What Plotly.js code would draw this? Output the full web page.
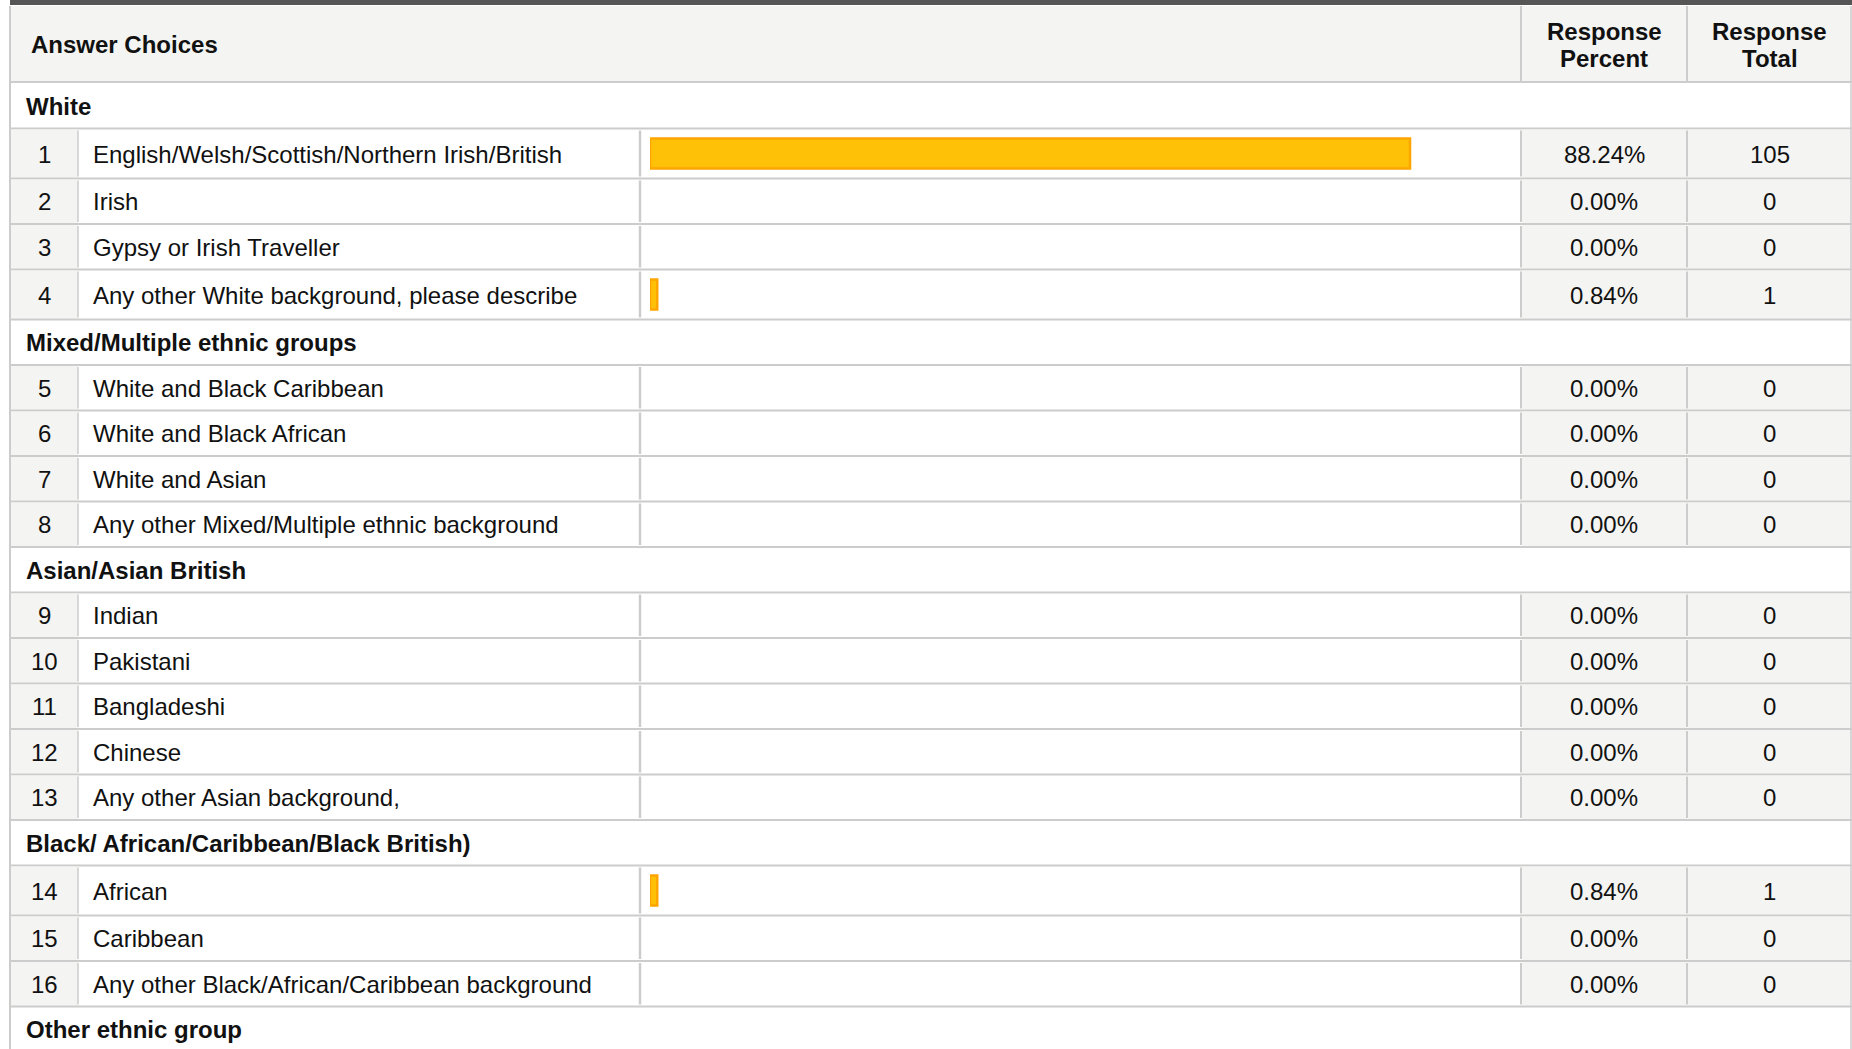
<!DOCTYPE html>
<html>
<head>
<meta charset="utf-8">
<script src="https://cdn.plot.ly/plotly-3.0.1.min.js"></script>
<style>
html, body { margin: 0; padding: 0; background: #ffffff; }
#chart { width: 1852px; height: 1049px; }
</style>
</head>
<body>
<div id="chart"></div>
<script>
// ---------------- DATA ----------------
const headerChoices = 'Answer Choices';
const headerPercent = ['Response', 'Percent'];
const headerTotal = ['Response', 'Total'];

const groupNames = [
  'White',
  'Mixed/Multiple ethnic groups',
  'Asian/Asian British',
  'Black/ African/Caribbean/Black British)',
  'Other ethnic group'
];

const choiceLabels = [
  'English/Welsh/Scottish/Northern Irish/British',
  'Irish',
  'Gypsy or Irish Traveller',
  'Any other White background, please describe',
  'White and Black Caribbean',
  'White and Black African',
  'White and Asian',
  'Any other Mixed/Multiple ethnic background',
  'Indian',
  'Pakistani',
  'Bangladeshi',
  'Chinese',
  'Any other Asian background,',
  'African',
  'Caribbean',
  'Any other Black/African/Caribbean background'
];

const choiceGroup = [0, 0, 0, 0, 1, 1, 1, 1, 2, 2, 2, 2, 2, 3, 3, 3];

const responsePercent = [88.24, 0.00, 0.00, 0.84, 0.00, 0.00, 0.00, 0.00,
                         0.00, 0.00, 0.00, 0.00, 0.00, 0.84, 0.00, 0.00];

const responseTotal = [105, 0, 0, 1, 0, 0, 0, 0, 0, 0, 0, 0, 0, 1, 0, 0];

// ---------------- LAYOUT (pixels) ----------------
const W = 1852, H = 1049;
const X_LEFT = 10, X_NUM = 78, X_TEXT = 640, X_PCT = 1521, X_TOT = 1687, X_RIGHT = 1851;
const TOPBAR_BOTTOM = 6, HEADER_BOTTOM = 83;
const SECTION_H = 45.5, ROW_H = 45.5, BAR_ROW_H = 50;
const BAR_AXIS_START = 650, BAR_AXIS_END = 1511.3;
const BAR_THICK = 30;
const TEXT_PAD = 3; // annotation box padding compensation

const GRID = '#cccccc', CELL_GRAY = '#f4f4f2', TEXT = '#111111';
const FONT = 'Liberation Sans, Arial, Helvetica, sans-serif';
const FS = 24;

const px = v => v / W;

// Build rows from the data
const rows = [];
let yCursor = HEADER_BOTTOM;
groupNames.forEach((g, gi) => {
  rows.push({ type: 'section', label: g, top: yCursor, bottom: yCursor + SECTION_H });
  yCursor += SECTION_H;
  choiceLabels.forEach((c, i) => {
    if (choiceGroup[i] !== gi) return;
    const h = responsePercent[i] > 0 ? BAR_ROW_H : ROW_H;
    rows.push({ type: 'choice', idx: i, top: yCursor, bottom: yCursor + h });
    yCursor += h;
  });
});

const choiceCenter = new Array(choiceLabels.length);
rows.forEach(r => { if (r.type === 'choice') choiceCenter[r.idx] = (r.top + r.bottom) / 2; });

// ---------------- SHAPES ----------------
const shapes = [];
function rect(x0, x1, y0, y1, fill) {
  shapes.push({ type: 'rect', xref: 'paper', yref: 'y', x0: px(x0), x1: px(x1), y0: y0, y1: y1,
    fillcolor: fill, line: { width: 0 }, layer: 'below' });
}
function hline(x0, x1, y, w, c) {
  shapes.push({ type: 'line', xref: 'paper', yref: 'y', x0: px(x0), x1: px(x1), y0: y, y1: y,
    line: { color: c || GRID, width: w || 2 }, layer: 'below' });
}
function vline(x, y0, y1, w, c) {
  shapes.push({ type: 'line', xref: 'paper', yref: 'y', x0: px(x), x1: px(x), y0: y0, y1: y1,
    line: { color: c || GRID, width: w || 2 }, layer: 'below' });
}

// top dark strip and header
rect(X_LEFT, W, 0, TOPBAR_BOTTOM - 1, '#555555');
rect(X_LEFT + 1, W, TOPBAR_BOTTOM, HEADER_BOTTOM - 1, CELL_GRAY);
hline(X_LEFT, W, HEADER_BOTTOM - 1, 2);
vline(X_PCT, TOPBAR_BOTTOM, HEADER_BOTTOM - 2, 2);
vline(X_TOT, TOPBAR_BOTTOM, HEADER_BOTTOM - 2, 2);

rows.forEach(r => {
  if (r.type === 'choice') {
    rect(X_LEFT + 1, X_NUM, r.top + 1, r.bottom - 1, CELL_GRAY);
    rect(X_PCT + 1, X_TOT, r.top + 1, r.bottom - 1, CELL_GRAY);
    rect(X_TOT + 1, W, r.top + 1, r.bottom - 1, CELL_GRAY);
    vline(X_NUM, r.top + 2, r.bottom - 2, 1.5);
    vline(X_TEXT, r.top + 2, r.bottom - 2, 2.5);
    vline(X_PCT, r.top + 2, r.bottom - 2, 2);
    vline(X_TOT, r.top + 2, r.bottom - 2, 2);
  }
  hline(X_LEFT, W, r.bottom, 2);
});
vline(X_LEFT, TOPBAR_BOTTOM, H, 2);
vline(X_RIGHT, TOPBAR_BOTTOM, H, 1.5);

// ---------------- ANNOTATIONS ----------------
const annotations = [];
function label(text, x, y, anchor, bold) {
  const xx = anchor === 'left' ? x - TEXT_PAD : x;
  annotations.push({ text: text, xref: 'paper', yref: 'y', x: px(xx), y: y,
    xanchor: anchor, yanchor: 'middle', showarrow: false,
    font: { family: FONT, size: FS, color: TEXT, weight: bold ? 'bold' : 'normal' } });
}
const hdrMid = (TOPBAR_BOTTOM + HEADER_BOTTOM) / 2;
label(headerChoices, 32, hdrMid, 'left', true);
label(headerPercent[0], (X_PCT + X_TOT) / 2, hdrMid - 13.5, 'center', true);
label(headerPercent[1], (X_PCT + X_TOT) / 2, hdrMid + 13.5, 'center', true);
label(headerTotal[0], (X_TOT + W) / 2, hdrMid - 13.5, 'center', true);
label(headerTotal[1], (X_TOT + W) / 2, hdrMid + 13.5, 'center', true);

rows.forEach(r => {
  const cy = (r.top + r.bottom) / 2 + 0.5;
  if (r.type === 'section') {
    label(r.label, 27, cy, 'left', true);
  } else {
    const i = r.idx;
    label(String(i + 1), (X_LEFT + X_NUM) / 2, cy, 'center', false);
    label(choiceLabels[i], 94, cy, 'left', false);
    label(responsePercent[i].toFixed(2) + '%', (X_PCT + X_TOT) / 2, cy, 'center', false);
    label(String(responseTotal[i]), (X_TOT + W) / 2, cy, 'center', false);
  }
});

// ---------------- TRACE ----------------
const barTrace = {
  type: 'bar',
  orientation: 'h',
  x: responsePercent,
  y: choiceCenter,
  width: BAR_THICK,
  marker: {
    color: '#FFC107',
    line: { color: '#FFA500', width: responsePercent.map(v => v > 0 ? 2.5 : 0) }
  },
  hoverinfo: 'skip',
  showlegend: false
};

const layout = {
  width: W, height: H,
  margin: { l: 0, r: 0, t: 0, b: 0, pad: 0 },
  paper_bgcolor: '#ffffff',
  plot_bgcolor: 'rgba(0,0,0,0)',
  showlegend: false,
  xaxis: { domain: [px(BAR_AXIS_START), px(BAR_AXIS_END)], range: [0, 100], visible: false, fixedrange: true },
  yaxis: { domain: [0, 1], range: [H, 0], visible: false, fixedrange: true },
  shapes: shapes,
  annotations: annotations,
  font: { family: FONT, color: TEXT }
};

Plotly.newPlot('chart', [barTrace], layout, { displayModeBar: false, staticPlot: true });
</script>
</body>
</html>
